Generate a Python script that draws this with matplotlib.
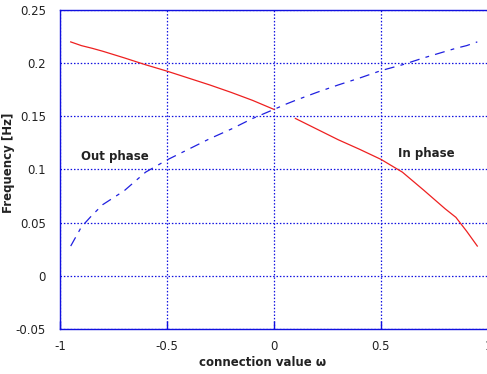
import numpy as np
import matplotlib
matplotlib.use("Agg")
import matplotlib.pyplot as plt
from matplotlib import font_manager

# connection value omega and the two branch frequencies [Hz]
omega = [-0.95, -0.9, -0.85, -0.8, -0.7, -0.6, -0.5, -0.4, -0.3, -0.2, -0.1, 0.0,
         0.05, 0.1, 0.2, 0.3, 0.4, 0.5, 0.6, 0.7, 0.8, 0.85, 0.9, 0.95]
in_phase = [0.220, 0.2165, 0.2140, 0.2112, 0.2050, 0.1985, 0.1925, 0.1860, 0.1795,
            0.1725, 0.1650, 0.1565, np.nan, 0.1480, 0.1380, 0.1280, 0.1190, 0.1095,
            0.0975, 0.0805, 0.0630, 0.0550, 0.0420, 0.0280]
out_phase = [0.028, 0.046, 0.057, 0.067, 0.080, 0.0975, 0.109, 0.119, 0.129, 0.138,
             0.148, 0.1565, 0.161, 0.165, 0.1725, 0.1795, 0.186, 0.193, 0.1985, 0.205,
             0.211, 0.214, 0.2165, 0.220]

xticks = [-1, -0.5, 0, 0.5, 1]
xtick_labels = ["-1", "-0.5", "0", "0.5", "1"]
yticks = [-0.05, 0, 0.05, 0.1, 0.15, 0.2, 0.25]
ytick_labels = ["-0.05", "0", "0.05", "0.1", "0.15", "0.2", "0.25"]

blue = "#1010e0"

installed = {f.name for f in font_manager.fontManager.ttflist}
tick_family = "Liberation Sans Narrow" if "Liberation Sans Narrow" in installed else "DejaVu Sans"
tick_stretch = "normal" if tick_family == "Liberation Sans Narrow" else "condensed"

fig = plt.figure(figsize=(4.87, 3.74), dpi=100)
ax = fig.add_axes([60 / 487, 45 / 374, 428 / 487, 319 / 374])

ax.plot(omega, in_phase, color="#ee2020", lw=0.9)
ax.plot(omega, out_phase, color="#2020e0", lw=0.9, linestyle=(0, (8, 5, 3, 5)))

ax.set_xlim(-1, 1)
ax.set_ylim(-0.05, 0.25)
ax.set_xticks(xticks)
ax.set_xticklabels(xtick_labels)
ax.set_yticks(yticks)
ax.set_yticklabels(ytick_labels)

for lab in ax.get_xticklabels() + ax.get_yticklabels():
    lab.set_fontfamily(tick_family)
    lab.set_fontsize(8.5)
    lab.set_color("#222222")

ax.tick_params(axis="x", direction="in", length=6, color=blue, width=1, pad=8)
ax.tick_params(axis="y", direction="in", length=0, pad=10)

ax.grid(True, color=blue, linestyle=(0, (1.2, 1.5)), lw=0.9)
ax.set_axisbelow(True)

for side in ["left", "top", "bottom", "right"]:
    ax.spines[side].set_color(blue)
    ax.spines[side].set_linewidth(1.0)

ax.text(-0.745, 0.112, "Out phase", fontsize=8.5, fontweight="bold",
        color="#222222", ha="center", va="center")
ax.text(0.71, 0.1146, "In phase", fontsize=8.5, fontweight="bold",
        color="#222222", ha="center", va="center")

ax.set_xlabel("connection value \u03c9", fontsize=8.5, fontweight="bold",
              color="#222222")
ax.xaxis.set_label_coords(0.474, -0.085)
ax.set_ylabel("Frequency [Hz]", fontsize=8.5, fontweight="bold",
              color="#222222")
ax.yaxis.set_label_coords(-0.105, 0.52)

fig.savefig("out.png", dpi=100)
